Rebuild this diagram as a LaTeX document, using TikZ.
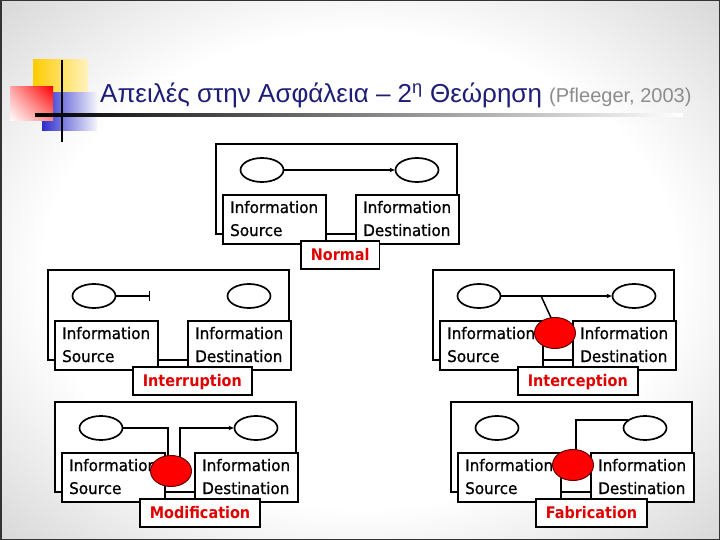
\documentclass[tikz,border=0pt]{standalone}
\usepackage{fontspec}
\setmainfont{Liberation Sans}
\newfontfamily\boxfont[FakeStretch=0.95,FakeBold=0.8]{DejaVu Sans}
\newfontfamily\lblfont[FakeStretch=0.9]{DejaVu Sans}
\usetikzlibrary{shapes.geometric,arrows.meta,calc,shadings}
\definecolor{navy}{HTML}{1E1E78}
\definecolor{citegray}{HTML}{8C8C8C}
\definecolor{lblred}{HTML}{E00000}
\definecolor{decoyellow}{HTML}{FFCC00}
\definecolor{decoblue}{HTML}{2E2ECC}
\definecolor{edgegray}{HTML}{333333}
\pgfdeclareradialshading{slidebg}{\pgfpoint{0bp}{0bp}}{rgb(0bp)=(1,1,1); rgb(22bp)=(1,1,1); rgb(50bp)=(0.68,0.68,0.68); rgb(75bp)=(0.57,0.57,0.57)}
\tikzset{
  frame/.style={draw=black, line width=1.7pt, fill=white},
  infobox/.style={draw=black, line width=1.7pt, fill=white, minimum width=103pt, minimum height=49pt, anchor=north west, inner sep=0pt},
  infotext/.style={font=\boxfont\fontsize{16}{18}\selectfont, anchor=base west, inner sep=0pt},
  endpt/.style={draw=black, ellipse, line width=1.7pt, minimum width=43pt, minimum height=24pt, inner sep=0pt, fill=white},
  attacker/.style={draw=black!60!red, ellipse, fill=red, line width=1pt, minimum width=41pt, minimum height=31pt, inner sep=0pt},
  lblbox/.style={draw=black, line width=1.7pt, fill=white, anchor=north west, minimum height=28pt, inner xsep=10pt, inner ysep=0pt, text height=12pt, text depth=0pt, text=lblred, font=\lblfont\bfseries\fontsize{16}{18}\selectfont},
  flow/.style={line width=1.5pt},
  tip/.style={-{Stealth[length=5pt,width=4.5pt]}}
}
\newcommand\drawpanel[5]{%
  \draw[frame] (#2,#3) rectangle ++(241,90);
  \node[endpt] (#1-L) at (#2+46,#3+26) {};
  \node[endpt] (#1-R) at (#2+#5,#3+26) {};
  \node[infobox] (#1-src) at (#2+6,#3+50) {};
  \node[infobox] (#1-dst) at (#2+139,#3+50) {};
  \node[infotext] (#1-s1) at ([shift={(8,19)}]#1-src.north west) {Information};
  \node[infotext] (#1-s2) at ([shift={(8,42)}]#1-src.north west) {Source};
  \node[infotext] (#1-d1) at ([shift={(8,19)}]#1-dst.north west) {Information};
  \node[infotext] (#1-d2) at ([shift={(8,42)}]#1-dst.north west) {Destination};
  \node[lblbox] (#1-lbl) at (#2+84,#3+96) {#4};
}
\begin{document}
\begin{tikzpicture}[x=1pt,y=-1pt]
  \useasboundingbox (0,0) rectangle (720,540);
  \shade[shading=slidebg] (0,0) rectangle (720,540);
  \draw[edgegray, line width=1.5pt] (0.75,0.75) rectangle (719.25,539.25);

  % decoration
  \shade[left color=decoyellow, right color=decoyellow!25] (33,60) rectangle (88,93);
  \shade[left color=decoblue, right color=decoblue!5] (42,93) rectangle (97,131);
  \shade[lower left=white, upper right=red, upper left=red!35, lower right=red!45] (10,87) rectangle (53,121);
  \draw[black, line width=2.5pt] (62,60) -- (62,142);
  \shade[left color=black, right color=white] (35,113.5) rectangle (683,116.5);

  % title
  \node[anchor=base west, inner sep=0pt, text=navy, font=\fontsize{26}{29}\selectfont] (title) at (100,103)
    {Απειλές στην Ασφάλεια – 2\textsuperscript{η} Θεώρηση {\color{citegray}\fontsize{20}{23}\selectfont (Pfleeger, 2003)}};

  % Normal
  \drawpanel{nm}{216}{144}{Normal}{201}
  \draw[flow, tip] (nm-L.east) -- (nm-R.west);

  % Interruption
  \drawpanel{ir}{48}{270}{Interruption}{201}
  \coordinate (ir-stop) at (150,296);
  \draw[flow, -{Bar[width=10pt]}] (ir-L.east) -- (ir-stop);

  % Interception
  \drawpanel{ic}{433}{270}{Interception}{201}
  \draw[flow, tip] (ic-L.east) -- (ic-R.west);
  \coordinate (ic-tap) at ($(ic-L.east)!0.36!(ic-R.west)$);
  \coordinate (ic-a) at (555,333);
  \draw[flow] (ic-tap) -- ([xshift=3pt]ic-a);
  \node[attacker] (ic-A) at (ic-a) {};

  % Modification
  \drawpanel{md}{55}{402}{Modification}{201}
  \coordinate (md-a) at (171,471);
  \draw[flow] (md-L.east) -| ([xshift=-3pt]md-a);
  \draw[flow, tip] ([xshift=9pt]md-a) |- (md-R.west);
  \node[attacker] (md-A) at (md-a) {};

  % Fabrication
  \drawpanel{fb}{451}{402}{Fabrication}{194}
  \coordinate (fb-a) at (573,465);
  \draw[flow] ([xshift=3pt]fb-a) |- (fb-R.155);
  \node[attacker] (fb-A) at (fb-a) {};
\end{tikzpicture}
\end{document}
